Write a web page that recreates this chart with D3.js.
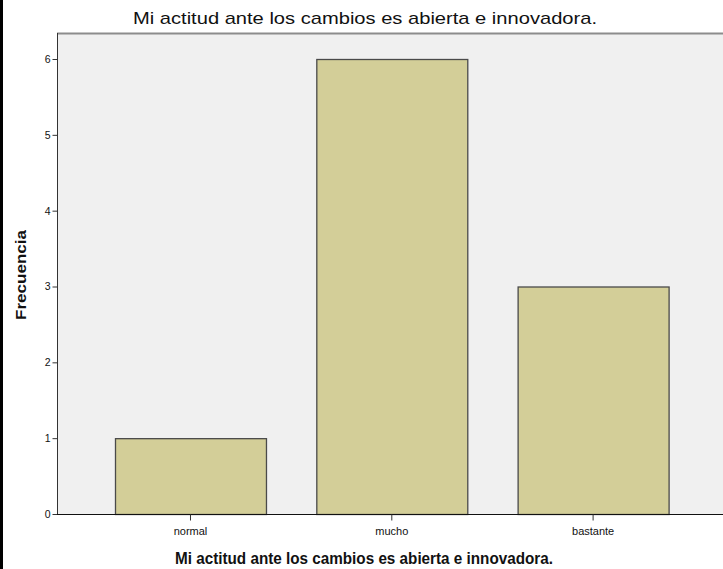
<!DOCTYPE html>
<html>
<head>
<meta charset="utf-8">
<script src="https://cdn.jsdelivr.net/npm/d3@7"></script>
<style>
  body { margin: 0; background: #fff; }
  svg text { font-family: Arial, "Liberation Sans", sans-serif; }
</style>
</head>
<body>
<div id="chart"></div>
<script>
(function() {
    let w = 723,
        h = 569;

    // data
    let categories = ["normal", "mucho", "bastante"];
    let counts = [1, 6, 3];
    let yTicks = [0, 1, 2, 3, 4, 5, 6];
    let title = "Mi actitud ante los cambios es abierta e innovadora.";

    let plot = { left: 57, top: 33, right: 723, bottom: 514 };

    let svg = d3.select("#chart")
        .append("svg")
        .attr("width", w)
        .attr("height", h);

    // black strip on the left edge
    svg.append("rect")
        .attr("x", 0).attr("y", 0)
        .attr("width", 3).attr("height", h)
        .attr("fill", "#000");

    let x = d3.scaleBand()
        .domain(categories)
        .range([115, 668.6])
        .paddingInner(0.25)
        .paddingOuter(0);

    let y = d3.scaleLinear()
        .domain([0, 6])
        .range([plot.bottom, 59]);

    // plot background
    svg.append("rect")
        .attr("x", plot.left).attr("y", plot.top)
        .attr("width", plot.right - plot.left)
        .attr("height", plot.bottom - plot.top)
        .attr("fill", "#f0f0f0");

    svg.append("line")
        .attr("x1", plot.left).attr("x2", plot.right)
        .attr("y1", plot.top + 0.5).attr("y2", plot.top + 0.5)
        .attr("stroke", "#8c8c8c").attr("stroke-width", 2);

    // bars
    svg.append("g").selectAll("rect")
        .data(categories)
        .enter().append("rect")
        .attr("x", d => x(d) + 0.5)
        .attr("y", (d, i) => y(counts[i]) + 0.5)
        .attr("width", x.bandwidth())
        .attr("height", (d, i) => y(0) - y(counts[i]))
        .attr("fill", "#d3ce98")
        .attr("stroke", "#4a4a4a")
        .attr("stroke-width", 1.3);

    // y axis
    let yAxis = svg.append("g")
        .attr("transform", "translate(" + (plot.left + 0.5) + ",0)")
        .call(d3.axisLeft(y).tickValues(yTicks).tickFormat(d3.format("d")).tickSize(5).tickSizeOuter(0));
    yAxis.select(".domain").attr("stroke", "#333").attr("d", "M0," + plot.top + "V" + plot.bottom);
    yAxis.selectAll(".tick line").attr("stroke", "#333");
    yAxis.selectAll("text").attr("font-size", 10.5).attr("fill", "#111").attr("x", -7);

    // x axis
    let xAxis = svg.append("g")
        .attr("transform", "translate(0," + (plot.bottom + 0.5) + ")")
        .call(d3.axisBottom(x).tickSize(6).tickSizeOuter(0));
    xAxis.select(".domain").attr("stroke", "#111").attr("d", "M" + plot.left + ",0H" + plot.right);
    xAxis.selectAll(".tick line").attr("stroke", "#333");
    xAxis.selectAll("text").attr("font-size", 11).attr("fill", "#111").attr("dy", "1.05em");

    // titles
    svg.append("text")
        .attr("x", 365).attr("y", 24)
        .attr("text-anchor", "middle")
        .attr("font-size", 17)
        .attr("textLength", 464)
        .attr("lengthAdjust", "spacingAndGlyphs")
        .attr("fill", "#111")
        .text(title);

    svg.append("text")
        .attr("x", 364).attr("y", 564)
        .attr("text-anchor", "middle")
        .attr("font-size", 16)
        .attr("font-weight", "bold")
        .attr("textLength", 378)
        .attr("lengthAdjust", "spacingAndGlyphs")
        .attr("fill", "#111")
        .text(title);

    svg.append("text")
        .attr("transform", "translate(26,275) rotate(-90)")
        .attr("text-anchor", "middle")
        .attr("font-size", 15.5)
        .attr("font-weight", "bold")
        .attr("textLength", 90)
        .attr("lengthAdjust", "spacingAndGlyphs")
        .attr("fill", "#111")
        .text("Frecuencia");
})();
</script>
</body>
</html>
